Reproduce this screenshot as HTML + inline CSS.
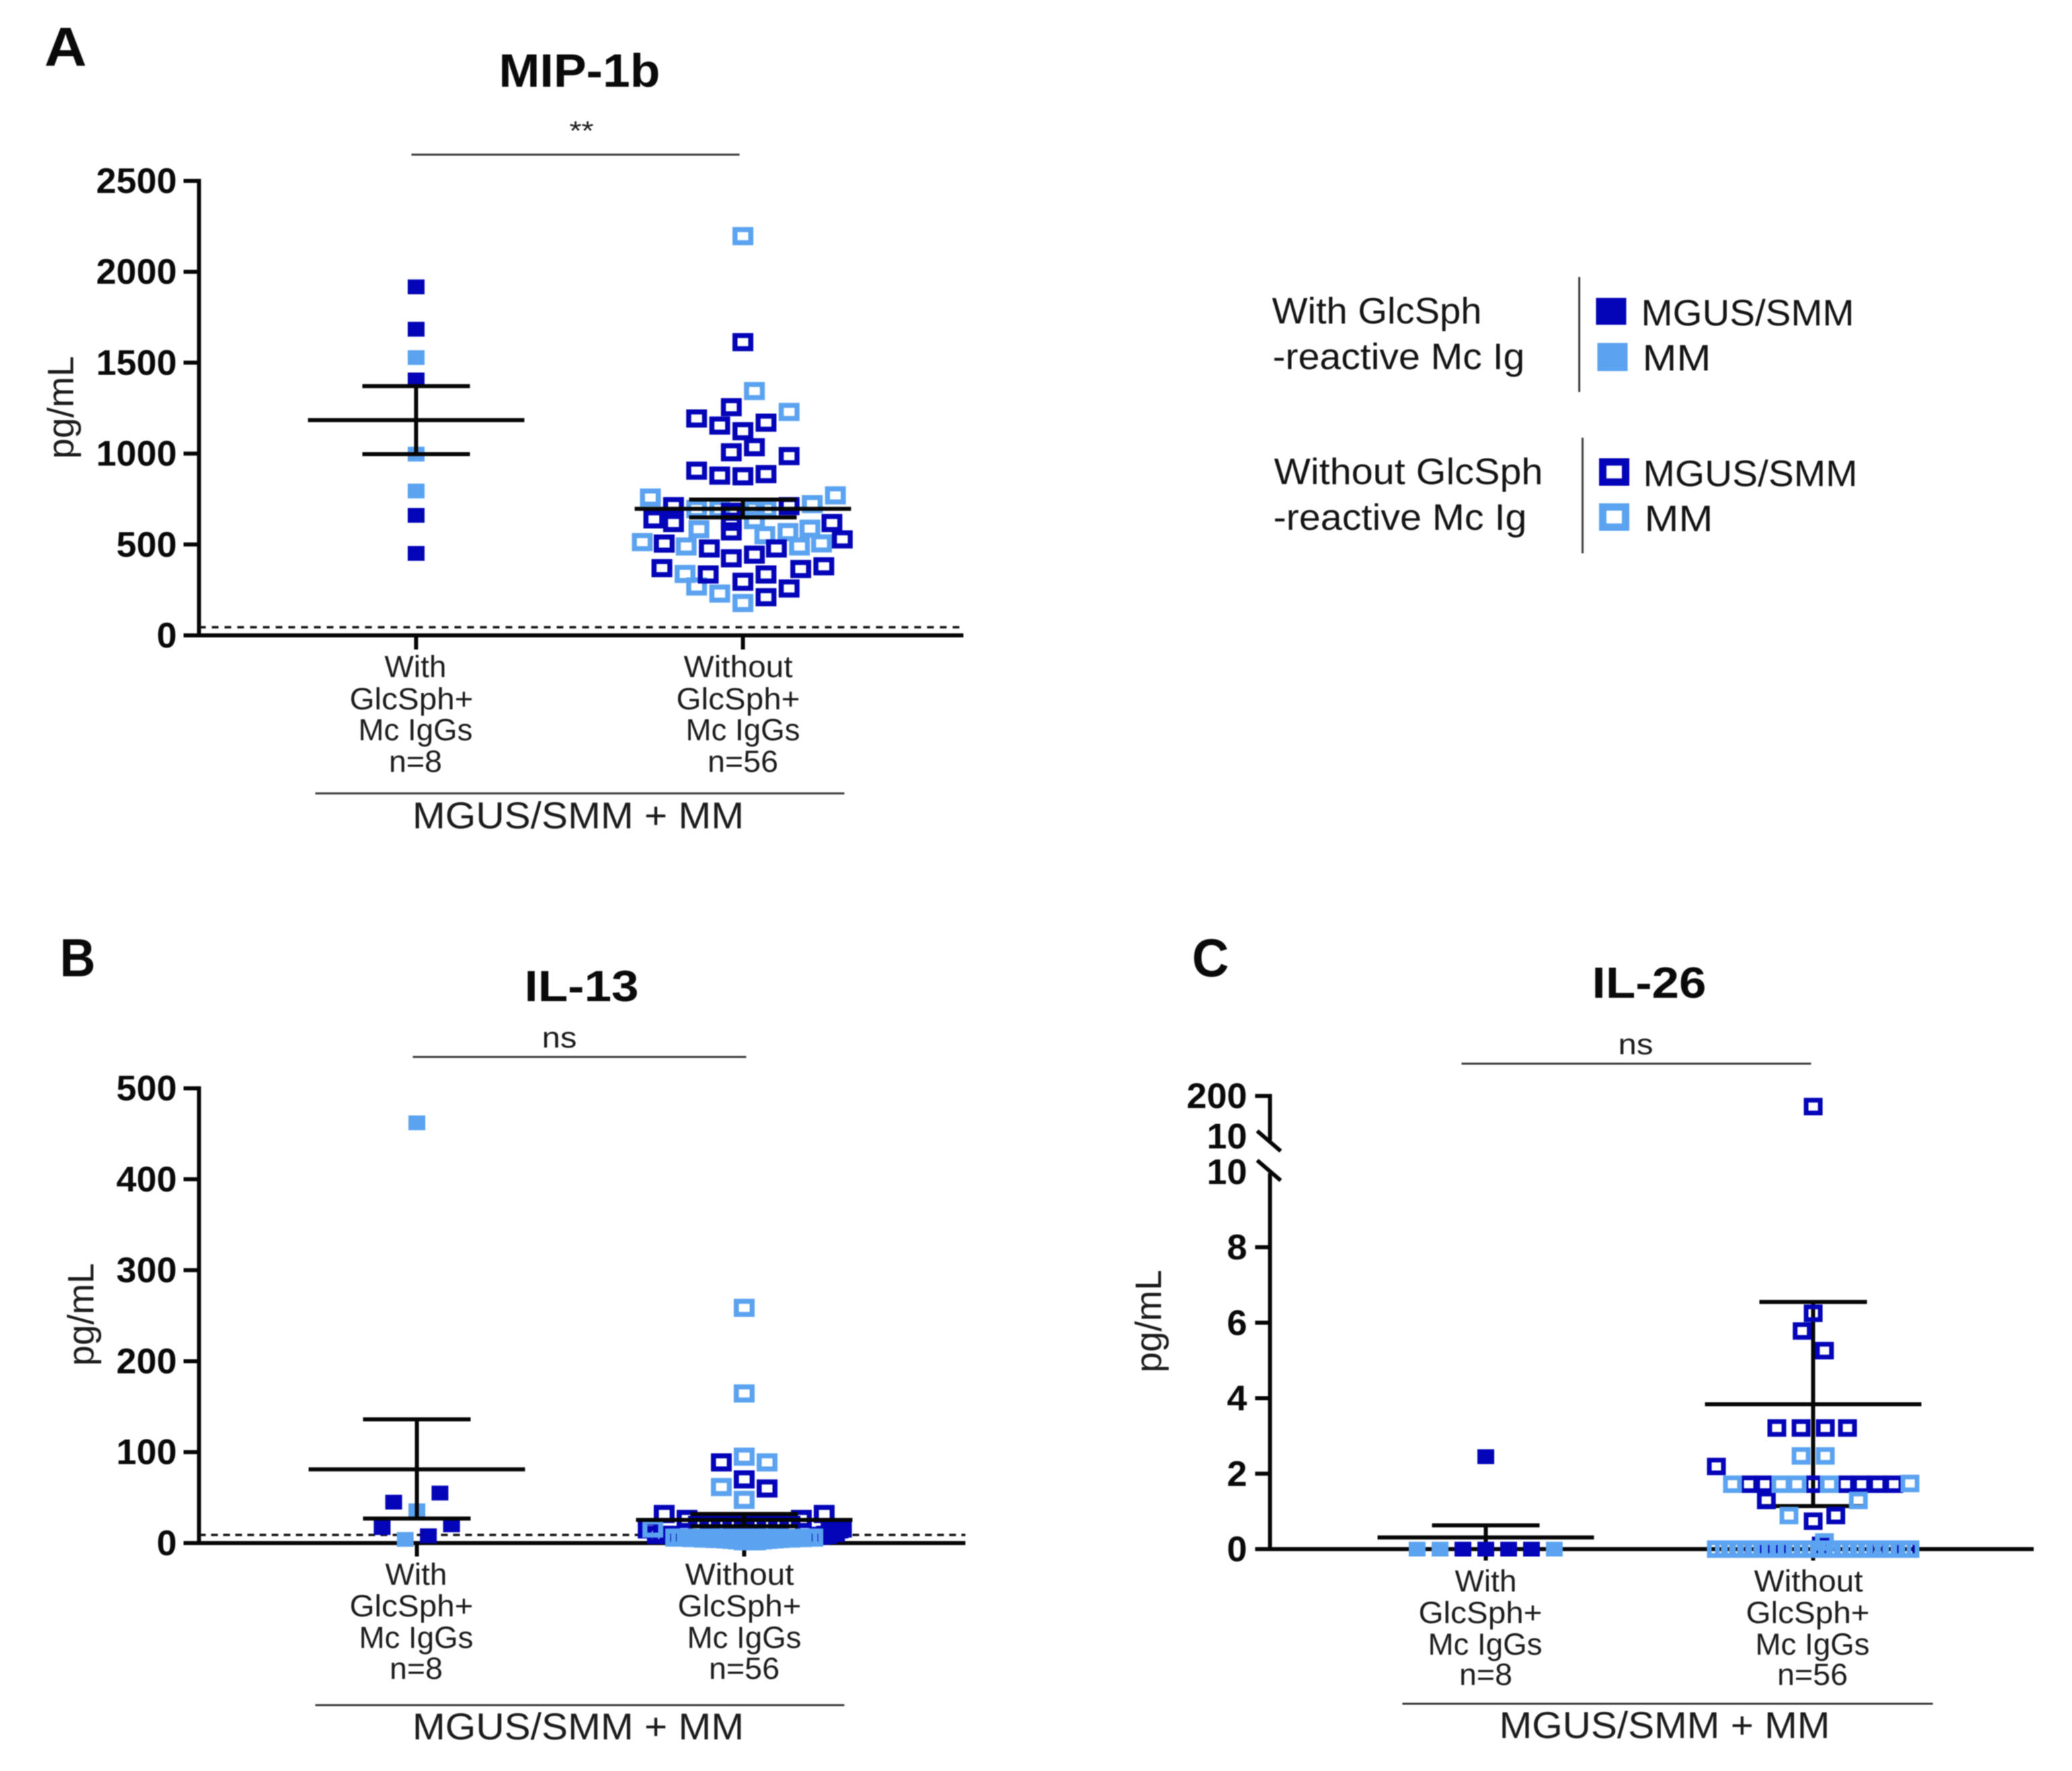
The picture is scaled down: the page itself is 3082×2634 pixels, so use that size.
<!DOCTYPE html>
<html lang="en">
<head>
<meta charset="utf-8">
<title>MIP-1b, IL-13 and IL-26 by GlcSph reactivity</title>
<style>
html,body{margin:0;padding:0;background:#fff;width:3082px;height:2634px;overflow:hidden}
svg{display:block;filter:blur(0.9px)}
text{font-family:"Liberation Sans",sans-serif;fill:#1c1c1c}
.tt{font-weight:700;fill:#0a0a0a}
.cat{font-size:45px;text-anchor:middle;fill:#1c1c1c}
.grp{font-size:56px;text-anchor:middle;fill:#1c1c1c}
.leg{font-size:55px;fill:#141414}
.yl{font-size:55px;text-anchor:middle;fill:#1c1c1c}
.rule{stroke:#3c3c3c;stroke-width:3}
</style>
</head>
<body>
<svg id="figure" xmlns="http://www.w3.org/2000/svg" width="3082" height="2634" viewBox="0 0 3082 2634">
<rect x="0" y="0" width="3082" height="2634" fill="#fff"/>

<g id="panel-a">
<text class="tt" x="66" y="98" font-size="82" textLength="63" lengthAdjust="spacingAndGlyphs">A</text>
<text class="tt" x="742" y="129" font-size="70" textLength="240" lengthAdjust="spacingAndGlyphs">MIP-1b</text>
<text x="865" y="208" font-size="40" text-anchor="middle" textLength="36" lengthAdjust="spacingAndGlyphs">**</text>
<line class="rule" x1="612" y1="230" x2="1100" y2="230"/>
<text class="yl" transform="translate(109,606) rotate(-90)">pg/mL</text>
<g>
<text class="cat" x="618" y="1007" textLength="92" lengthAdjust="spacingAndGlyphs">With</text>
<text class="cat" x="612" y="1055" textLength="184" lengthAdjust="spacingAndGlyphs">GlcSph+</text>
<text class="cat" x="618" y="1101" textLength="170" lengthAdjust="spacingAndGlyphs">Mc IgGs</text>
<text class="cat" x="618" y="1148" textLength="79" lengthAdjust="spacingAndGlyphs">n=8</text>
</g>
<g>
<text class="cat" x="1098" y="1007" textLength="162" lengthAdjust="spacingAndGlyphs">Without</text>
<text class="cat" x="1098" y="1055" textLength="184" lengthAdjust="spacingAndGlyphs">GlcSph+</text>
<text class="cat" x="1105" y="1101" textLength="170" lengthAdjust="spacingAndGlyphs">Mc IgGs</text>
<text class="cat" x="1105" y="1148" textLength="105" lengthAdjust="spacingAndGlyphs">n=56</text>
</g>
<line class="rule" x1="469" y1="1180" x2="1256" y2="1180"/>
<text class="grp" x="860" y="1232" textLength="493" lengthAdjust="spacingAndGlyphs">MGUS/SMM + MM</text>
</g>

<g id="panel-b">
<text class="tt" x="89" y="1452" font-size="80" textLength="53" lengthAdjust="spacingAndGlyphs">B</text>
<text class="tt" x="780" y="1489" font-size="65" textLength="170" lengthAdjust="spacingAndGlyphs">IL-13</text>
<text x="832" y="1558" font-size="44" text-anchor="middle" textLength="52" lengthAdjust="spacingAndGlyphs">ns</text>
<line class="rule" x1="614" y1="1572" x2="1110" y2="1572"/>
<text class="yl" transform="translate(139,1955) rotate(-90)">pg/mL</text>
<g>
<text class="cat" x="619" y="2357" textLength="92" lengthAdjust="spacingAndGlyphs">With</text>
<text class="cat" x="612" y="2404" textLength="184" lengthAdjust="spacingAndGlyphs">GlcSph+</text>
<text class="cat" x="619" y="2451" textLength="170" lengthAdjust="spacingAndGlyphs">Mc IgGs</text>
<text class="cat" x="619" y="2497" textLength="79" lengthAdjust="spacingAndGlyphs">n=8</text>
</g>
<g>
<text class="cat" x="1100" y="2357" textLength="162" lengthAdjust="spacingAndGlyphs">Without</text>
<text class="cat" x="1100" y="2404" textLength="184" lengthAdjust="spacingAndGlyphs">GlcSph+</text>
<text class="cat" x="1107" y="2451" textLength="170" lengthAdjust="spacingAndGlyphs">Mc IgGs</text>
<text class="cat" x="1107" y="2497" textLength="105" lengthAdjust="spacingAndGlyphs">n=56</text>
</g>
<line class="rule" x1="469" y1="2536" x2="1256" y2="2536"/>
<text class="grp" x="860" y="2587" textLength="493" lengthAdjust="spacingAndGlyphs">MGUS/SMM + MM</text>
</g>

<g id="panel-c">
<text class="tt" x="1773" y="1452" font-size="80" textLength="55" lengthAdjust="spacingAndGlyphs">C</text>
<text class="tt" x="2368" y="1484" font-size="65" textLength="170" lengthAdjust="spacingAndGlyphs">IL-26</text>
<text x="2433" y="1568" font-size="44" text-anchor="middle" textLength="52" lengthAdjust="spacingAndGlyphs">ns</text>
<line class="rule" x1="2174" y1="1582" x2="2694" y2="1582"/>
<text class="yl" transform="translate(1727,1965) rotate(-90)">pg/mL</text>
<g>
<text class="cat" x="2210" y="2367" textLength="92" lengthAdjust="spacingAndGlyphs">With</text>
<text class="cat" x="2202" y="2414" textLength="184" lengthAdjust="spacingAndGlyphs">GlcSph+</text>
<text class="cat" x="2209" y="2461" textLength="170" lengthAdjust="spacingAndGlyphs">Mc IgGs</text>
<text class="cat" x="2210" y="2506" textLength="79" lengthAdjust="spacingAndGlyphs">n=8</text>
</g>
<g>
<text class="cat" x="2690" y="2367" textLength="162" lengthAdjust="spacingAndGlyphs">Without</text>
<text class="cat" x="2689" y="2414" textLength="184" lengthAdjust="spacingAndGlyphs">GlcSph+</text>
<text class="cat" x="2696" y="2461" textLength="170" lengthAdjust="spacingAndGlyphs">Mc IgGs</text>
<text class="cat" x="2696" y="2506" textLength="105" lengthAdjust="spacingAndGlyphs">n=56</text>
</g>
<line class="rule" x1="2086" y1="2534" x2="2875" y2="2534"/>
<text class="grp" x="2476" y="2585" textLength="492" lengthAdjust="spacingAndGlyphs">MGUS/SMM + MM</text>
</g>

<g id="legend">
<text class="leg" x="1892" y="481" textLength="312" lengthAdjust="spacingAndGlyphs">With GlcSph</text>
<text class="leg" x="1893" y="549" textLength="375" lengthAdjust="spacingAndGlyphs">-reactive Mc Ig</text>
<line class="rule" x1="2349" y1="412" x2="2349" y2="583"/>
<rect x="2374" y="443" width="45" height="40" fill="#0404b8"/>
<rect x="2376" y="510" width="45" height="42" fill="#5ba3f0"/>
<text class="leg" x="2441" y="484" textLength="317" lengthAdjust="spacingAndGlyphs">MGUS/SMM</text>
<text class="leg" x="2443" y="551" textLength="102" lengthAdjust="spacingAndGlyphs">MM</text>
<text class="leg" x="1895" y="720" textLength="400" lengthAdjust="spacingAndGlyphs">Without GlcSph</text>
<text class="leg" x="1894" y="788" textLength="377" lengthAdjust="spacingAndGlyphs">-reactive Mc Ig</text>
<line class="rule" x1="2354" y1="651" x2="2354" y2="823"/>
<rect x="2384" y="687" width="34" height="30" fill="none" stroke="#0404b8" stroke-width="11"/>
<rect x="2384" y="754" width="34" height="30" fill="none" stroke="#5ba3f0" stroke-width="11"/>
<text class="leg" x="2444" y="723" textLength="319" lengthAdjust="spacingAndGlyphs">MGUS/SMM</text>
<text class="leg" x="2446" y="790" textLength="102" lengthAdjust="spacingAndGlyphs">MM</text>
</g>
</svg>

<script>
// ---------- Panel A: MIP-1b ----------
const mipTicks = [0, 500, 1000, 1500, 2000, 2500];
const mipThreshold = 45;
const mipWithMgusValues = [1917, 1684, 1405, 660, 451];
const mipWithMgusColumns = [0, 0, 0, 0, 0];
const mipWithMmValues = [1528, 997, 794];
const mipWithMmColumns = [0, 0, 0];
const mipWithStats = [1184, 997, 1371];
const mipWithoutMgusValues = [1613, 1255, 1193, 1154, 1170, 1123, 1035, 1007, 986, 906, 879, 875, 887, 711, 711, 680, 638, 618, 625, 572, 618, 528, 505, 478, 424, 444, 478, 370, 335, 295, 335, 365, 380, 258, 210];
const mipWithoutMgusColumns = [0, -1, -4, -2, 2, 0, 1, -1, 4, -4, -2, 0, 2, -6, 4, -1, -7.7, -6, -1, -1, 7.7, 8.6, -6.8, -2.9, -1, 1, 2.9, -7, -3, 0, 2, 5, 7, 4, 2];
const mipWithoutMmValues = [2196, 1344, 1229, 758, 770, 722, 695, 695, 695, 695, 634, 584, 551, 568, 587, 513, 489, 489, 506, 338, 269, 230, 178];
const mipWithoutMmColumns = [0, 1, 4, -8, 8, 6, -4, -2, 1, 2, 1, -3.8, 1.9, 3.9, 5.8, -8.7, -4.9, 4.9, 6.8, -5, -4, -2, 0];
const mipWithoutStats = [696, 649, 747];

// ---------- Panel B: IL-13 ----------
const il13Ticks = [0, 100, 200, 300, 400, 500];
const il13Threshold = 9;
const il13WithMgusValues = [55, 45, 17, 20, 8];
const il13WithMgusColumns = [2, -2, -3, 3, 1];
const il13WithMmValues = [462, 35.5, 4];
const il13WithMmColumns = [0, 0, -1];
const il13WithStats = [81, 27, 136];
const il13WithoutMgusValues = [88.7, 70, 60, 32, 32, 26.5, 26.5, 22, 22, 22, 22, 22, 20, 20, 20, 20, 16, 15, 9, 9, 9, 16, 15, 14, 13, 11, 9, 8];
const il13WithoutMgusColumns = [-2, 0, 2, -7, 7, -5, 5, -3, -1, 0, 1, 3, -4, -2, 2, 4, -8, -8.4, -7.6, -7.1, -6.5, 8.5, 8.2, 7.9, 7.6, 7.9, 7.2, 6.6];
const il13WithoutMmValues = [258.6, 164.5, 95, 88.7, 61.6, 47.5, 16, 6, 6, 6, 5.5, 5.5, 5, 5, 4.5, 4.5, 4, 3.5, 3, 2, 2, 2, 3, 3.5, 4, 4.5, 5, 5, 5.5, 5.5, 6, 6, 6, 6, 6, 6, 6, 6, 6];
const il13WithoutMmColumns = [0, 0, 0, 2, -2, 0, -8, -6, -5.5, -5, -4.5, -4, -3.5, -3, -2.5, -2, -1.5, -1, -0.5, 0, 0.5, 1, 1.5, 2, 2.5, 3, 3.5, 4, 4.5, 5, 5.5, 6, -3, -2, -1, 0, 1, 2, 3];
const il13WithoutStats = [25.4, 18.5, 32];

// ---------- Panel C: IL-26 (broken axis) ----------
const il26LowerTicks = [0, 2, 4, 6, 8, 10];
const il26UpperTicks = [10, 200];
const il26WithMgusValues = [2.45, 0, 0, 0, 0];
const il26WithMgusColumns = [0, -2, 0, 2, 4];
const il26WithMmValues = [0, 0, 0];
const il26WithMmColumns = [-6, -4, 6];
const il26WithStats = [0.31, 0, 0.63];
const il26WithoutMgusValues = [150, 6.25, 5.78, 5.26, 3.21, 3.21, 3.21, 3.21, 2.19, 1.72, 1.72, 1.72, 1.72, 1.72, 1.72, 1.72, 1.29, 0.89, 0.74, 0.1, 0, 0, 0, 0, 0, 0, 0, 0, 0, 0, 0, 0, 0, 0];
const il26WithoutMgusColumns = [0, 0, -1.36, 1.4, -4.5, -1.5, 1.5, 4.25, -12, -8, -6, 0, 4, 6, 8, 10, -5.8, 2.8, 0, 1, -7.3, -7.1, -5.5, -5.1, -4.5, -4.1, 0.9, 1.1, 7.9, 8.1, 9.7, 9.9, 11.7, 11.9];
const il26WithoutMmValues = [2.47, 2.47, 1.72, 1.72, 1.72, 1.72, 1.74, 1.29, 0.89, 0.19, 0, 0, 0, 0, 0, 0, 0, 0, 0, 0, 0, 0, 0, 0, 0, 0, 0, 0, 0, 0, 0, 0, 0, 0, 0];
const il26WithoutMmColumns = [-1.5, 1.5, -10, -4, -2, 2, 12, 5.6, -3, 1.4, -12, -11, -10, -9, -8, -7, -6, -5, -4, -3, -2, -1, 0, 1, 2, 3, 4, 5, 6, 7, 8, 9, 10, 11, 12];
const il26WithoutStats = [3.84, 1.14, 6.55];

const NS = 'http://www.w3.org/2000/svg';
const DARK = '#0404b8';
const LIGHT = '#5ba3f0';
const INK = '#060606';

function shape(parent, tag, name, attrs) {
  const el = document.createElementNS(NS, tag);
  
  
  for (const k in attrs) el.setAttribute(k, attrs[k]);
  parent.appendChild(el);
  return el;
}
function line(parent, name, x1, y1, x2, y2, width, color) {
  return shape(parent, 'line', name, { x1: x1, y1: y1, x2: x2, y2: y2, stroke: color || INK, 'stroke-width': width });
}
function linearScale(v0, p0, v1, p1) {
  return function (v) { return p0 + (v - v0) * (p1 - p0) / (v1 - v0); };
}
function tickLabel(parent, name, rightX, y, str) {
  const el = shape(parent, 'text', name, {
    x: rightX, y: y + 18, 'text-anchor': 'end', 'font-size': 53, 'font-weight': 700,
    textLength: str.length * 30, lengthAdjust: 'spacingAndGlyphs'
  });
  el.style.fill = '#0a0a0a';
  el.textContent = str;
  return el;
}
function openMarker(parent, name, cx, cy, color) {
  return shape(parent, 'rect', name, { x: cx - 11.75, y: cy - 9.75, width: 23.5, height: 19.5, fill: 'none', stroke: color, 'stroke-width': 7.5 });
}
function openMarkerThin(parent, name, cx, cy, color) {
  return shape(parent, 'rect', name, { x: cx - 10.5, y: cy - 9.5, width: 21, height: 19, fill: 'none', stroke: color, 'stroke-width': 7 });
}
function filledMarker(parent, name, cx, cy, color) {
  return shape(parent, 'rect', name, { x: cx - 12.5, y: cy - 11, width: 25, height: 22, fill: color });
}
function drawPoints(parent, values, columns, xFn, yFn, unit, draw, color, name) {
  values.forEach(function (v, i) {
    draw(parent, name, xFn + columns[i] * unit, yFn(v), color);
  });
}
function drawStats(parent, name, cx, yFn, stats) {
  const g = shape(parent, 'g', name, {});
  const mean = yFn(stats[0]), low = yFn(stats[1]), high = yFn(stats[2]);
  line(g, 'mean-line', cx - 161, mean, cx + 161, mean, 6);
  line(g, 'error-bar-stem', cx, low, cx, high, 6);
  line(g, 'error-cap-lower', cx - 80, low, cx + 80, low, 6);
  line(g, 'error-cap-upper', cx - 80, high, cx + 80, high, 6);
}

/* Panel A */
(function () {
  const p = document.getElementById('panel-a');
  const y = linearScale(0, 945, 2500, 269);
  const axisX = 296, tickLeft = 273, endX = 1433;
  const cats = [619, 1105];
  line(p, 'y-axis', axisX, y(0), axisX, y(2500) - 3, 6);
  line(p, 'x-axis', tickLeft, y(0), endX, y(0), 6);
  mipTicks.forEach(function (t) {
    line(p, 'y-tick', tickLeft, y(t), axisX, y(t), 6);
    tickLabel(p, 'y-tick-label', 263, y(t), String(t));
  });
  cats.forEach(function (c) { line(p, 'x-tick', c, y(0), c, y(0) + 21, 6); });
  shape(p, 'line', 'threshold-line', { x1: axisX, y1: y(mipThreshold), x2: endX, y2: y(mipThreshold), stroke: '#111', 'stroke-width': 3.5, 'stroke-dasharray': '10 9' });
  drawPoints(p, mipWithMgusValues, mipWithMgusColumns, cats[0], y, 17.2, filledMarker, DARK, 'point-with-mgus-smm');
  drawPoints(p, mipWithMmValues, mipWithMmColumns, cats[0], y, 17.2, filledMarker, LIGHT, 'point-with-mm');
  drawPoints(p, mipWithoutMmValues, mipWithoutMmColumns, cats[1], y, 17.2, openMarker, LIGHT, 'point-without-mm');
  drawPoints(p, mipWithoutMgusValues, mipWithoutMgusColumns, cats[1], y, 17.2, openMarker, DARK, 'point-without-mgus-smm');
  drawStats(p, 'stats-with', cats[0], y, mipWithStats);
  drawStats(p, 'stats-without', cats[1], y, mipWithoutStats);
})();

/* Panel B */
(function () {
  const p = document.getElementById('panel-b');
  const y = linearScale(0, 2295, 500, 1618.6);
  const axisX = 296, tickLeft = 273, endX = 1436;
  const cats = [620, 1107];
  line(p, 'y-axis', axisX, y(0), axisX, y(500) - 3, 6);
  line(p, 'x-axis', tickLeft, y(0), endX, y(0), 6);
  il13Ticks.forEach(function (t) {
    line(p, 'y-tick', tickLeft, y(t), axisX, y(t), 6);
    tickLabel(p, 'y-tick-label', 263, y(t), String(t));
  });
  cats.forEach(function (c) { line(p, 'x-tick', c, y(0), c, y(0) + 20, 6); });
  shape(p, 'line', 'threshold-line', { x1: axisX, y1: y(il13Threshold), x2: endX, y2: y(il13Threshold), stroke: '#111', 'stroke-width': 3.5, 'stroke-dasharray': '10 8' });
  drawPoints(p, il13WithMgusValues, il13WithMgusColumns, cats[0], y, 17.2, filledMarker, DARK, 'point-with-mgus-smm');
  drawPoints(p, il13WithMmValues, il13WithMmColumns, cats[0], y, 17.2, filledMarker, LIGHT, 'point-with-mm');
  drawPoints(p, il13WithoutMgusValues, il13WithoutMgusColumns, cats[1], y, 17, openMarker, DARK, 'point-without-mgus-smm');
  drawPoints(p, il13WithoutMmValues, il13WithoutMmColumns, cats[1], y, 17, openMarker, LIGHT, 'point-without-mm');
  drawStats(p, 'stats-with', cats[0], y, il13WithStats);
  drawStats(p, 'stats-without', cats[1], y, il13WithoutStats);
})();

/* Panel C */
(function () {
  const p = document.getElementById('panel-c');
  const yLow = linearScale(0, 2304, 8, 1855);
  const yHigh = linearScale(10, 1690, 200, 1630);
  const y = function (v) { return v > 10 ? yHigh(v) : yLow(v); };
  const axisX = 1889, tickLeft = 1867, endX = 3025;
  const cats = [2210, 2697];
  line(p, 'y-axis-lower', axisX, yLow(0), axisX, yLow(10) + 2, 6);
  line(p, 'y-axis-upper', axisX, yHigh(10) + 6, axisX, yHigh(200) - 3, 6);
  line(p, 'x-axis', tickLeft, yLow(0), endX, yLow(0), 6);
  line(p, 'axis-break-upper', tickLeft + 3, yHigh(10) - 8, tickLeft + 38, yHigh(10) + 22, 6);
  line(p, 'axis-break-lower', tickLeft + 3, yLow(10) - 17, tickLeft + 38, yLow(10) + 13, 6);
  il26LowerTicks.forEach(function (t) {
    if (t < 10) line(p, 'y-tick', tickLeft, yLow(t), axisX, yLow(t), 6);
    tickLabel(p, 'y-tick-label', 1855, yLow(t), String(t));
  });
  il26UpperTicks.forEach(function (t) {
    if (t > 10) line(p, 'y-tick', tickLeft, yHigh(t), axisX, yHigh(t), 6);
    tickLabel(p, 'y-tick-label', 1855, yHigh(t), String(t));
  });
  cats.forEach(function (c) { line(p, 'x-tick', c, yLow(0), c, yLow(0) + 17, 6); });
  drawStats(p, 'stats-with', cats[0], y, il26WithStats);
  drawStats(p, 'stats-without', cats[1], y, il26WithoutStats);
  drawPoints(p, il26WithMgusValues, il26WithMgusColumns, cats[0], y, 17, filledMarker, DARK, 'point-with-mgus-smm');
  drawPoints(p, il26WithMmValues, il26WithMmColumns, cats[0], y, 17, filledMarker, LIGHT, 'point-with-mm');
  drawPoints(p, il26WithoutMgusValues, il26WithoutMgusColumns, cats[1], y, 12, openMarkerThin, DARK, 'point-without-mgus-smm');
  drawPoints(p, il26WithoutMmValues, il26WithoutMmColumns, cats[1], y, 12, openMarkerThin, LIGHT, 'point-without-mm');
})();
</script>
</body>
</html>
